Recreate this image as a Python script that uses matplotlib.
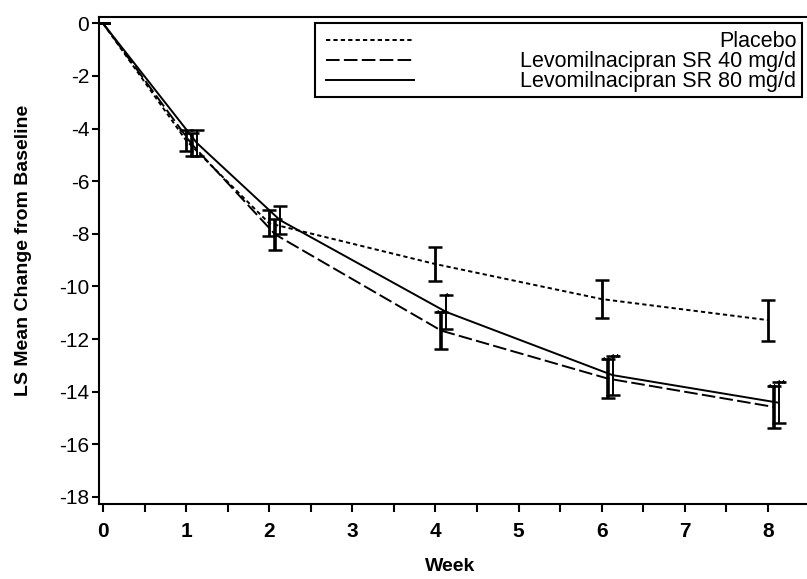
import matplotlib.pyplot as plt
import numpy as np

plt.rcParams['font.family'] = ['Liberation Sans', 'DejaVu Sans']
plt.rcParams['axes.unicode_minus'] = False

weeks = np.array([0, 1, 2, 4, 6, 8])

placebo = [0, -4.45, -7.6, -9.15, -10.48, -11.28]
placebo_se = [0, 0.40, 0.50, 0.65, 0.72, 0.78]

lev40 = [0, -4.6, -8.02, -11.68, -13.5, -14.58]
lev40_se = [0, 0.45, 0.60, 0.70, 0.75, 0.80]
lev40_sig = ['', '', '', '**', '**', '**']

lev80 = [0, -4.55, -7.48, -10.97, -13.37, -14.42]
lev80_se = [0, 0.50, 0.54, 0.66, 0.74, 0.78]
lev80_sig = ['', '', '', '*', '**', '**']

labels = ['Placebo', 'Levomilnacipran SR 40 mg/d', 'Levomilnacipran SR 80 mg/d']

fig = plt.figure(figsize=(8.07, 5.79), dpi=100)
ax = fig.add_axes([0.1227, 0.1295, 0.8773, 0.8415])

# small x offsets so the error bars don't sit on top of each other
off = np.where(weeks == 0, 0, 1)
series = [
    (placebo, placebo_se, 0.0, (0, (2.2, 1.6)), 2.0, None, 'center'),
    (lev40, lev40_se, 0.07, (0, (7, 2.2)), 2.6, lev40_sig, 'right'),
    (lev80, lev80_se, 0.13, '-', 1.4, lev80_sig, 'left'),
]
for vals, se, dx, ls, ebw, sig, ha in series:
    x = weeks + dx * off
    ax.plot(x, vals, color='black', linestyle=ls, linewidth=1.4)
    ax.errorbar(x, vals, yerr=se, fmt='none', ecolor='black',
                elinewidth=ebw, capsize=5, capthick=1.8)
    if sig is not None:
        shift = 0.04 if ha == 'right' else -0.02
        for xi, v, s, t in zip(x, vals, se, sig):
            if t:
                ax.text(xi + shift, v + s - 0.3, t, ha=ha, va='bottom',
                        fontsize=8, fontweight='bold')

ax.set_xlim(-0.048, 8.47)
ax.set_ylim(-18.27, 0.25)
ax.set_xticks(range(0, 9))
ax.set_xticks(np.arange(0.5, 8.5, 1), minor=True)
ax.set_yticks(range(-18, 1, 2))
ax.tick_params(axis='x', which='both', direction='out', length=6, width=1.5,
               labelsize=15, pad=7)
ax.tick_params(axis='y', direction='out', length=5, width=1.5, labelsize=15, pad=2)
for lab in ax.get_xticklabels():
    lab.set_fontweight('bold')
for sp in ['left', 'bottom', 'top']:
    ax.spines[sp].set_linewidth(1.5)
ax.spines['right'].set_visible(False)

ax.set_xlabel('Week', fontsize=14, fontweight='bold')
ax.set_ylabel('LS Mean Change from Baseline', fontsize=14, fontweight='bold')
ax.xaxis.set_label_coords(0.496, -0.11)
ax.yaxis.set_label_coords(-0.094, 0.52)

# legend box drawn by hand: handles left, labels right-aligned
box = plt.Rectangle((0.305, 0.835), 0.688, 0.152, transform=ax.transAxes,
                    fill=False, linewidth=1.5, edgecolor='black', zorder=5)
ax.add_patch(box)
styles = [(0, (2.2, 1.6)), (0, (7, 2.2)), '-']
for i, (lab, ls) in enumerate(zip(labels, styles)):
    yy = 0.952 - i * 0.041
    ax.plot([0.32, 0.445], [yy, yy], transform=ax.transAxes, color='black',
            linestyle=ls, linewidth=1.4)
    ax.text(0.985, yy - 0.003, lab, transform=ax.transAxes, ha='right', va='center',
            fontsize=15.5)

fig.savefig('out.png', dpi=100)
